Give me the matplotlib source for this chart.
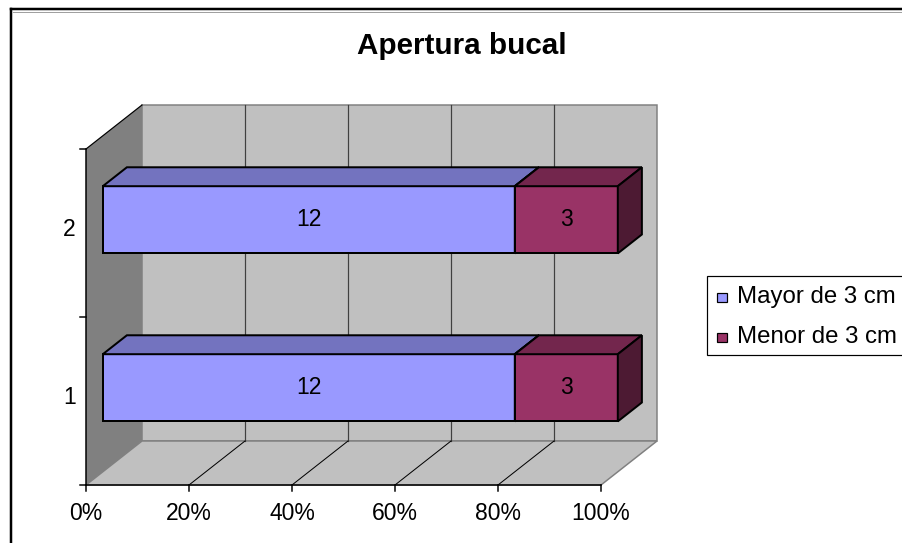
import matplotlib
matplotlib.use("Agg")
import matplotlib.pyplot as plt
from matplotlib.patches import Polygon, Rectangle

# Chart data
categories = ["1", "2"]
series_names = ["Mayor de 3 cm", "Menor de 3 cm"]
mayor = [12, 12]
menor = [3, 3]
value_ticks = [0, 20, 40, 60, 80, 100]
title = "Apertura bucal"

# Face colours (front, top, side) for each series
face_colors = [
    ("#9999FF", "#7373BF", "#4D4D80"),
    ("#993366", "#73264D", "#4D1A33"),
]

plt.rcParams["font.family"] = ["Liberation Sans", "DejaVu Sans"]
PX = 0.72  # points per pixel at 100 dpi

fig = plt.figure(figsize=(9.02, 5.43), dpi=100)
ax = fig.add_axes([0, 0, 1, 1])
ax.set_xlim(0, 902)
ax.set_ylim(543, 0)
ax.axis("off")

# Oblique projection of the 3-D plot box onto the page
X0, W, DX = 86.0, 515.0, 56.0
Y0, H, DY = 485.0, 168.0, 44.0


def proj(frac, cat, depth):
    return (X0 + frac * W + depth * DX, Y0 - cat * H - depth * DY)


def face(points, fc, ec="black", lw=2 * PX, z=1):
    ax.add_patch(Polygon([proj(*p) for p in points], closed=True,
                         facecolor=fc, edgecolor=ec, linewidth=lw,
                         joinstyle="miter", zorder=z))


ncat = len(categories)

# Walls and floor
face([(0, 0, 1), (1, 0, 1), (1, ncat, 1), (0, ncat, 1)], "#C0C0C0", "#808080", 1.5 * PX)
face([(0, 0, 0), (0, 0, 1), (0, ncat, 1), (0, ncat, 0)], "#808080", "none", 0)
face([(0, 0, 0), (1, 0, 0), (1, 0, 1), (0, 0, 1)], "#C0C0C0", "#808080", 1.5 * PX)

# Value gridlines on back wall and floor
for t in value_ticks[1:-1]:
    f = t / 100
    xs, ys = zip(proj(f, 0, 1), proj(f, ncat, 1))
    ax.plot(xs, ys, color="#404040", lw=1.2 * PX, zorder=2)
    xs, ys = zip(proj(f, 0, 0), proj(f, 0, 1))
    ax.plot(xs, ys, color="black", lw=1.0 * PX, zorder=2)

# Left wall top edge
xs, ys = zip(proj(0, ncat, 0), proj(0, ncat, 1))
ax.plot(xs, ys, color="black", lw=1.2 * PX, zorder=2)

# Axes lines
xs, ys = zip(proj(0, 0, 0), proj(1, 0, 0))
ax.plot(xs, ys, color="black", lw=1.5 * PX, zorder=3)
xs, ys = zip(proj(0, 0, 0), proj(0, ncat, 0))
ax.plot(xs, ys, color="black", lw=1.5 * PX, zorder=3)

# Value ticks and labels
for t in value_ticks:
    x, y = proj(t / 100, 0, 0)
    ax.plot([x, x], [y, y + 6], color="black", lw=1.5 * PX, zorder=3)
    ax.text(x, y + 28, f"{t}%", ha="center", va="center", fontsize=16.5)

# Category ticks and labels
for k in range(ncat + 1):
    x, y = proj(0, k, 0)
    ax.plot([x - 6, x], [y, y], color="black", lw=1.5 * PX, zorder=3)
for i, cat in enumerate(categories):
    x, y = proj(0, i + 0.5, 0)
    ax.text(x - 10, y - 3, cat, ha="right", va="center", fontsize=16.5)

# Stacked 3-D bars
bar_half = 0.2
z_front, z_back = 0.30, 0.73
series = [mayor, menor]
for i in range(ncat):
    total = sum(s[i] for s in series)
    y_lo, y_hi = i + 0.5 - bar_half, i + 0.5 + bar_half
    left = 0.0
    for s, (fc, tc, sc) in zip(series, face_colors):
        v = s[i]
        right = left + v / total
        face([(left, y_lo, z_front), (right, y_lo, z_front),
              (right, y_hi, z_front), (left, y_hi, z_front)], fc, z=4)
        face([(left, y_hi, z_front), (right, y_hi, z_front),
              (right, y_hi, z_back), (left, y_hi, z_back)], tc, z=4)
        face([(right, y_lo, z_front), (right, y_lo, z_back),
              (right, y_hi, z_back), (right, y_hi, z_front)], sc, z=4)
        cx, cy = proj((left + right) / 2, i + 0.5, z_front)
        ax.text(cx, cy, str(v), ha="center", va="center", fontsize=16.5, zorder=5)
        left = right

# Title
ax.text(462, 46, title, ha="center", va="center", fontsize=21.3, fontweight="bold")

# Legend
ax.add_patch(Rectangle((707, 276), 260, 79, facecolor="white", edgecolor="black",
                       linewidth=1.2 * PX, zorder=6, clip_on=True))
for k, (name, (fc, _, _)) in enumerate(zip(series_names, face_colors)):
    yc = 297 + k * 40
    ax.add_patch(Rectangle((717, yc - 4.5), 9.5, 9.5, facecolor=fc, edgecolor="black",
                           linewidth=1.2 * PX, zorder=7))
    ax.text(737, yc, name, ha="left", va="center", fontsize=17.3, zorder=7)

# Chart area border
ax.plot([11, 11], [9, 543], color="black", lw=2.5 * PX, zorder=8, solid_capstyle="projecting")
ax.plot([11, 902], [9, 9], color="black", lw=2.5 * PX, zorder=8, solid_capstyle="projecting")
ax.plot([13, 902], [11.5, 11.5], color="#A0A0A0", lw=1 * PX, zorder=8)

fig.savefig("out.png", dpi=100)
